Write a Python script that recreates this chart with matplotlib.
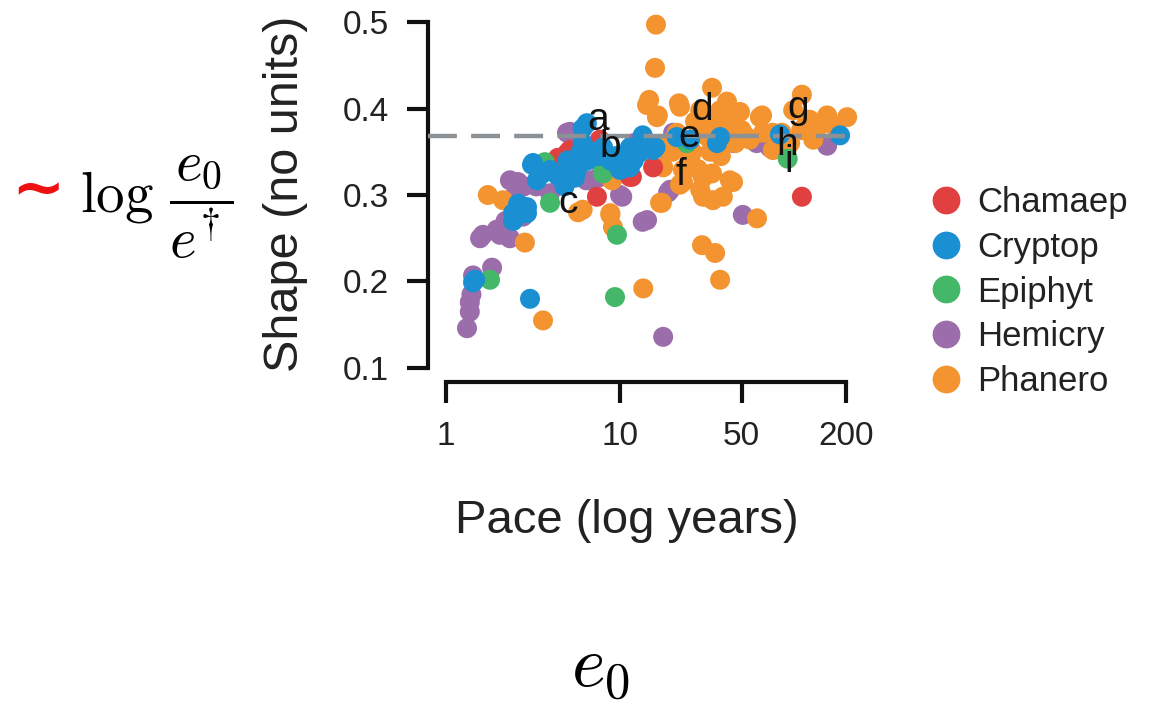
import matplotlib
matplotlib.use("Agg")
import matplotlib.pyplot as plt
from matplotlib.lines import Line2D
import numpy as np

plt.rcParams['font.family'] = ['Liberation Sans', 'DejaVu Sans']
plt.rcParams['mathtext.fontset'] = 'cm'

# ---- data (pace in years, shape) ----
groups = ["Chamaep", "Cryptop", "Epiphyt", "Hemicry", "Phanero"]
colors = ["#E0403F", "#1A8FD1", "#44B868", "#9C6DAB", "#F39431"]

cham_pace = [4.52, 5.16, 4.4, 5.0, 7.37, 7.66, 11.4, 11.7, 15.5, 111]
cham_shape = [0.337, 0.352, 0.343, 0.349, 0.298, 0.364, 0.321, 0.321, 0.332, 0.298]

cryp_pace = [1.43, 1.47, 3.04, 2.43, 2.43, 2.49, 2.92, 2.92, 2.6, 3.12, 3.16, 3.96, 3.33, 3.6,
             4.4, 5.36, 5.66, 5.6, 5.9, 6.1, 6.1, 6.45, 5.0, 7.0, 7.5, 8.0, 8.8, 10, 10.4,
             10.9, 11.4, 11.4, 13.0, 13.5, 13.5, 15.5, 16, 21.2, 25.3, 36.1, 37.6, 83, 184,
             4.8, 5.5, 6.5, 9.5, 12]
cryp_shape = [0.199, 0.202, 0.180, 0.279, 0.270, 0.273, 0.279, 0.286, 0.290, 0.335, 0.337, 0.329, 0.317, 0.325,
              0.322, 0.332, 0.329, 0.340, 0.349, 0.360, 0.377, 0.383, 0.340, 0.350, 0.345, 0.355, 0.340, 0.329, 0.343,
              0.332, 0.332, 0.355, 0.349, 0.360, 0.369, 0.352, 0.355, 0.367, 0.364, 0.360, 0.367, 0.370, 0.369,
              0.310, 0.320, 0.340, 0.345, 0.340]

epi_pace = [1.79, 3.7, 3.96, 7.37, 8.0, 9.6, 9.36, 24.2, 92]
epi_shape = [0.202, 0.338, 0.291, 0.340, 0.325, 0.254, 0.182, 0.360, 0.342]

hemi_pace = [1.32, 1.37, 1.37, 1.40, 1.43, 1.84, 1.57, 2.04, 2.33, 1.63, 1.96, 2.18, 2.2, 2.77,
             2.59, 2.33, 2.5, 2.8, 3.3, 3.96, 4.5, 4.96, 5.16, 5.5, 5.66, 6.4, 6.7, 7.5, 8.5,
             10, 10.3, 12, 13.5, 14.3, 17.7, 18.9, 19.4, 20.2, 18.6, 25, 45, 50.8, 61, 72.6,
             80, 155]
hemi_shape = [0.146, 0.165, 0.176, 0.185, 0.207, 0.216, 0.250, 0.254, 0.250, 0.254, 0.260, 0.256, 0.270, 0.275,
              0.315, 0.317, 0.300, 0.310, 0.310, 0.302, 0.320, 0.372, 0.373, 0.330, 0.332, 0.317, 0.317, 0.320, 0.330,
              0.300, 0.298, 0.360, 0.269, 0.271, 0.136, 0.303, 0.306, 0.372, 0.352, 0.360, 0.360, 0.277, 0.360, 0.355,
              0.354, 0.357]

phan_pace = [16.1, 15.9, 14.7, 16.5, 21.8, 33.8, 41.2, 48.9, 65.5, 111, 155, 202, 123, 98.9, 119,
             63.6, 28.9, 37.6, 22.1, 1.74, 2.13, 2.84, 3.61, 5.74, 9.0, 8.8, 9.1, 13.6, 17.0,
             30.0, 33.8, 44.6, 30, 34.2, 39, 29.6, 35.2, 37.6, 61.3, 23.0, 25.3, 17.7, 21.2,
             32, 55.7, 66.4, 129, 44.6, 53.5, 75.6, 129, 75.6, 42.8, 22.1, 17.4, 28.9, 23,
             17.7, 41, 16.3, 14.3, 6.1, 8.8, 27, 30, 35, 40, 46, 50, 85, 95, 110, 140, 170,
             20, 26, 33, 38, 28, 19]
phan_shape = [0.497, 0.447, 0.410, 0.392, 0.406, 0.424, 0.408, 0.396, 0.392, 0.416, 0.392, 0.390, 0.387, 0.398, 0.387,
              0.390, 0.398, 0.398, 0.402, 0.300, 0.294, 0.245, 0.155, 0.280, 0.317, 0.277, 0.263, 0.192, 0.291,
              0.320, 0.325, 0.315, 0.298, 0.294, 0.298, 0.242, 0.233, 0.202, 0.273, 0.315, 0.343, 0.355, 0.372,
              0.367, 0.364, 0.372, 0.364, 0.375, 0.367, 0.372, 0.372, 0.352, 0.317, 0.312, 0.291, 0.306, 0.329,
              0.332, 0.390, 0.390, 0.404, 0.283, 0.279, 0.385, 0.380, 0.383, 0.370, 0.360, 0.375, 0.372, 0.360, 0.375, 0.380, 0.380,
              0.350, 0.350, 0.350, 0.345, 0.330, 0.360]

ref_line = 0.368

lab_text = ["a", "b", "c", "d", "e", "f", "g", "h", "i"]
lab_pace = [7.47, 8.76, 5.02, 29.6, 24.9, 22.4, 105.5, 91.2, 93]
lab_shape = [0.375, 0.344, 0.279, 0.387, 0.355, 0.3116, 0.389, 0.346, 0.327]

xticks = [1, 10, 50, 200]
yticks = [0.1, 0.2, 0.3, 0.4, 0.5]

# ---- figure ----
W, H = 1160, 707
fig = plt.figure(figsize=(W / 100, H / 100), dpi=100)

def fx(px):
    return px / W

def fy(py):
    return 1 - py / H

ax = fig.add_axes([fx(428), fy(382), fx(860) - fx(428), fy(12) - fy(382)])
ax.set_xscale('log')
ax.set_xlim(0.788, 239.5)
ax.set_ylim(0.0838, 0.5116)

series = [(hemi_pace, hemi_shape, colors[3]),
          (phan_pace, phan_shape, colors[4]),
          (cham_pace, cham_shape, colors[0]),
          (epi_pace, epi_shape, colors[2]),
          (cryp_pace, cryp_shape, colors[1])]
for xs, ys, c in series:
    ax.scatter(xs, ys, s=207, color=c, edgecolors='none', zorder=2)

ax.axhline(ref_line, xmin=0, xmax=0.993, color="#8C9196", lw=3.2,
           dashes=(6.5, 3.2), zorder=3)

for t, x, y in zip(lab_text, lab_pace, lab_shape):
    ax.text(x, y, t, fontsize=28, ha='center', va='baseline', color='#111111', zorder=4)

for side in ['top', 'right']:
    ax.spines[side].set_visible(False)
ax.spines['left'].set_bounds(0.1, 0.5)
ax.spines['bottom'].set_bounds(1, 200)
ax.spines['left'].set_linewidth(3)
ax.spines['bottom'].set_linewidth(3)
ax.spines['left'].set_color('#111111')
ax.spines['bottom'].set_color('#111111')

ax.set_xticks(xticks)
ax.set_xticklabels([str(v) for v in xticks])
ax.xaxis.set_minor_locator(matplotlib.ticker.NullLocator())
ax.set_yticks(yticks)
ax.set_yticklabels([f"{v:.1f}" for v in yticks])
ax.tick_params(axis='both', length=15, width=3, color='#111111',
               labelsize=24, labelcolor='#222222')
ax.tick_params(axis='x', pad=13)
ax.tick_params(axis='y', pad=13)

fig.text(fx(627), fy(521), "Pace (log years)", fontsize=34, ha='center', va='center', color='#222222')
fig.text(fx(285), fy(194), "Shape (no units)", fontsize=35, rotation=90,
         ha='center', va='center', color='#222222')

handles = [Line2D([], [], marker='o', linestyle='none', markersize=20,
                  markerfacecolor=c, markeredgecolor='none') for c in colors]
fig.legend(handles, groups, loc='upper left', bbox_to_anchor=(fx(929), fy(186)),
           bbox_transform=fig.transFigure, frameon=False, fontsize=25,
           handlelength=1.0, handletextpad=0.4, labelspacing=0.34, borderpad=0,
           borderaxespad=0, labelcolor='#222222')

# annotations beside the plot
fig.text(fx(38), fy(190), "~", fontsize=46, fontweight='bold', color='#EE1111',
         ha='center', va='center', family='DejaVu Sans')
fig.text(fx(80), fy(207), r"$\log\,\dfrac{e_0}{e^{\!\dagger}}$", fontsize=41,
         ha='left', va='center', color='black')
fig.text(fx(600), fy(668), r"$e_0$", fontsize=52, ha='center', va='center', color='black')

fig.savefig("out.png", dpi=100)
